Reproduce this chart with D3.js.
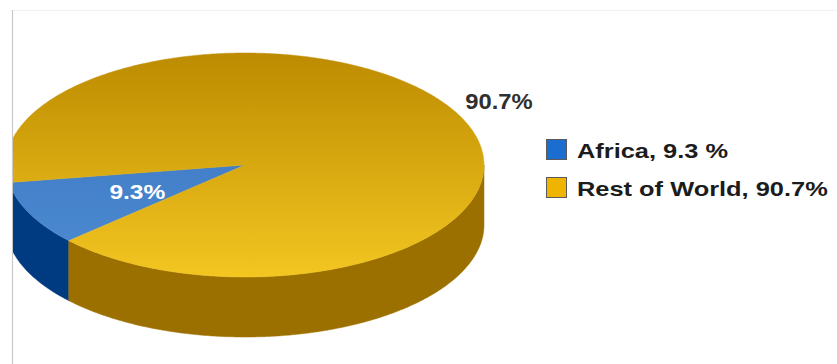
<!DOCTYPE html>
<html>
<head>
<meta charset="utf-8">
<script src="https://cdn.jsdelivr.net/npm/d3@7"></script>
<style>
  html, body { margin: 0; padding: 0; background: #ffffff; }
  svg { display: block; }
</style>
</head>
<body>
<svg id="chart" width="837" height="364"></svg>
<script>
// ---- data ----
const categories = ["Africa", "Rest of World"];
const values = [9.3, 90.7];
const sliceLabels = ["9.3%", "90.7%"];
const legendLabels = ["Africa, 9.3 %", "Rest of World, 90.7%"];

// ---- styles ----
const topColors = [["#3874bf", "#4d8bd2"], ["#bd8b00", "#f3c621"]];
const sideColors = ["#003a80", "#9c7000"];
const legendColors = ["#1c6dd0", "#efb400"];

const W = 837, H = 364;
const cx = 245, cy = 165, rx = 239, ry = 112, depth = 60;
const startDeg = 227.5;

const svg = d3.select("#chart");
const defs = svg.append("defs");

// background / frame
svg.append("rect").attr("width", W).attr("height", H).attr("fill", "#ffffff");
svg.append("line").attr("x1", 12).attr("x2", W).attr("y1", 10.5).attr("y2", 10.5)
  .attr("stroke", "#f1f1f1").attr("stroke-width", 1);
svg.append("line").attr("x1", 12.5).attr("x2", 12.5).attr("y1", 10).attr("y2", H)
  .attr("stroke", "#c9c9c9").attr("stroke-width", 1.2);

defs.append("clipPath").attr("id", "clipL")
  .append("rect").attr("x", 13).attr("y", 0).attr("width", W).attr("height", H);

topColors.forEach((c, i) => {
  const g = defs.append("linearGradient").attr("id", "topG" + i)
    .attr("gradientUnits", "userSpaceOnUse")
    .attr("x1", 0).attr("x2", 0).attr("y1", cy - ry).attr("y2", cy + ry);
  g.append("stop").attr("offset", "0%").attr("stop-color", c[0]);
  g.append("stop").attr("offset", "100%").attr("stop-color", c[1]);
});

const pie = d3.pie().sort(null).value(d => d)
  .startAngle(startDeg * Math.PI / 180)
  .endAngle((startDeg + 360) * Math.PI / 180);
const arcs = pie(values);

const P = (a, dy = 0) => [cx + rx * Math.sin(a), cy - ry * Math.cos(a) + dy];
const sample = (a1, a2, dy) => {
  const n = Math.max(2, Math.ceil(Math.abs(a2 - a1) / 0.01));
  return d3.range(n + 1).map(i => P(a1 + (a2 - a1) * i / n, dy));
};
const line = d3.line();

const g = svg.append("g").attr("clip-path", "url(#clipL)");

// side walls (front half only)
arcs.forEach((d, i) => {
  for (let k = -1; k <= 2; k++) {
    const lo = Math.max(d.startAngle, Math.PI / 2 + k * 2 * Math.PI);
    const hi = Math.min(d.endAngle, 3 * Math.PI / 2 + k * 2 * Math.PI);
    if (hi > lo) {
      const pts = sample(lo, hi, 0).concat(sample(hi, lo, depth));
      g.append("path").attr("d", line(pts) + "Z")
        .attr("fill", sideColors[i]).attr("stroke", sideColors[i]).attr("stroke-width", 0.5);
    }
  }
});

// top slices
arcs.forEach((d, i) => {
  const pts = [[cx, cy]].concat(sample(d.startAngle, d.endAngle, 0));
  g.append("path").attr("d", line(pts) + "Z")
    .attr("fill", "url(#topG" + i + ")")
    .attr("stroke", "url(#topG" + i + ")").attr("stroke-width", 0.5);
});

// slice labels
const mid = d => (d.startAngle + d.endAngle) / 2;
{
  const d = arcs[0];
  const a = mid(d);
  const x = cx + 0.5 * rx * Math.sin(a), y = cy - 0.5 * ry * Math.cos(a);
  svg.append("text")
    .attr("transform", `translate(${x},${y + 10}) scale(1.17,1)`)
    .attr("text-anchor", "middle")
    .attr("font-family", "Liberation Sans, Arial, sans-serif")
    .attr("font-weight", "bold").attr("font-size", 21)
    .attr("fill", "#ffffff").text(sliceLabels[0]);
}
{
  const d = arcs[1];
  const [x, y] = P(mid(d));
  svg.append("text")
    .attr("transform", `translate(${x + 5},${y - 7}) scale(1.08,1)`)
    .attr("text-anchor", "start")
    .attr("font-family", "Liberation Sans, Arial, sans-serif")
    .attr("font-weight", "bold").attr("font-size", 22)
    .attr("fill", "#303030").text(sliceLabels[1]);
}

// legend
const ly = d3.scaleBand().domain(categories).range([139, 215]).paddingInner(0);
const leg = svg.append("g");
categories.forEach((c, i) => {
  const y0 = ly(c);
  leg.append("rect").attr("x", 546.5).attr("y", y0 + 0.5).attr("width", 20).attr("height", 20)
    .attr("fill", legendColors[i]).attr("stroke", "#5a5a5a").attr("stroke-width", 1);
  leg.append("text")
    .attr("transform", `translate(577,${y0 + 18.5}) scale(1.21,1)`)
    .attr("font-family", "Liberation Sans, Arial, sans-serif")
    .attr("font-weight", "bold").attr("font-size", 21)
    .attr("fill", "#1c1c1c").text(legendLabels[i]);
});
</script>
</body>
</html>
